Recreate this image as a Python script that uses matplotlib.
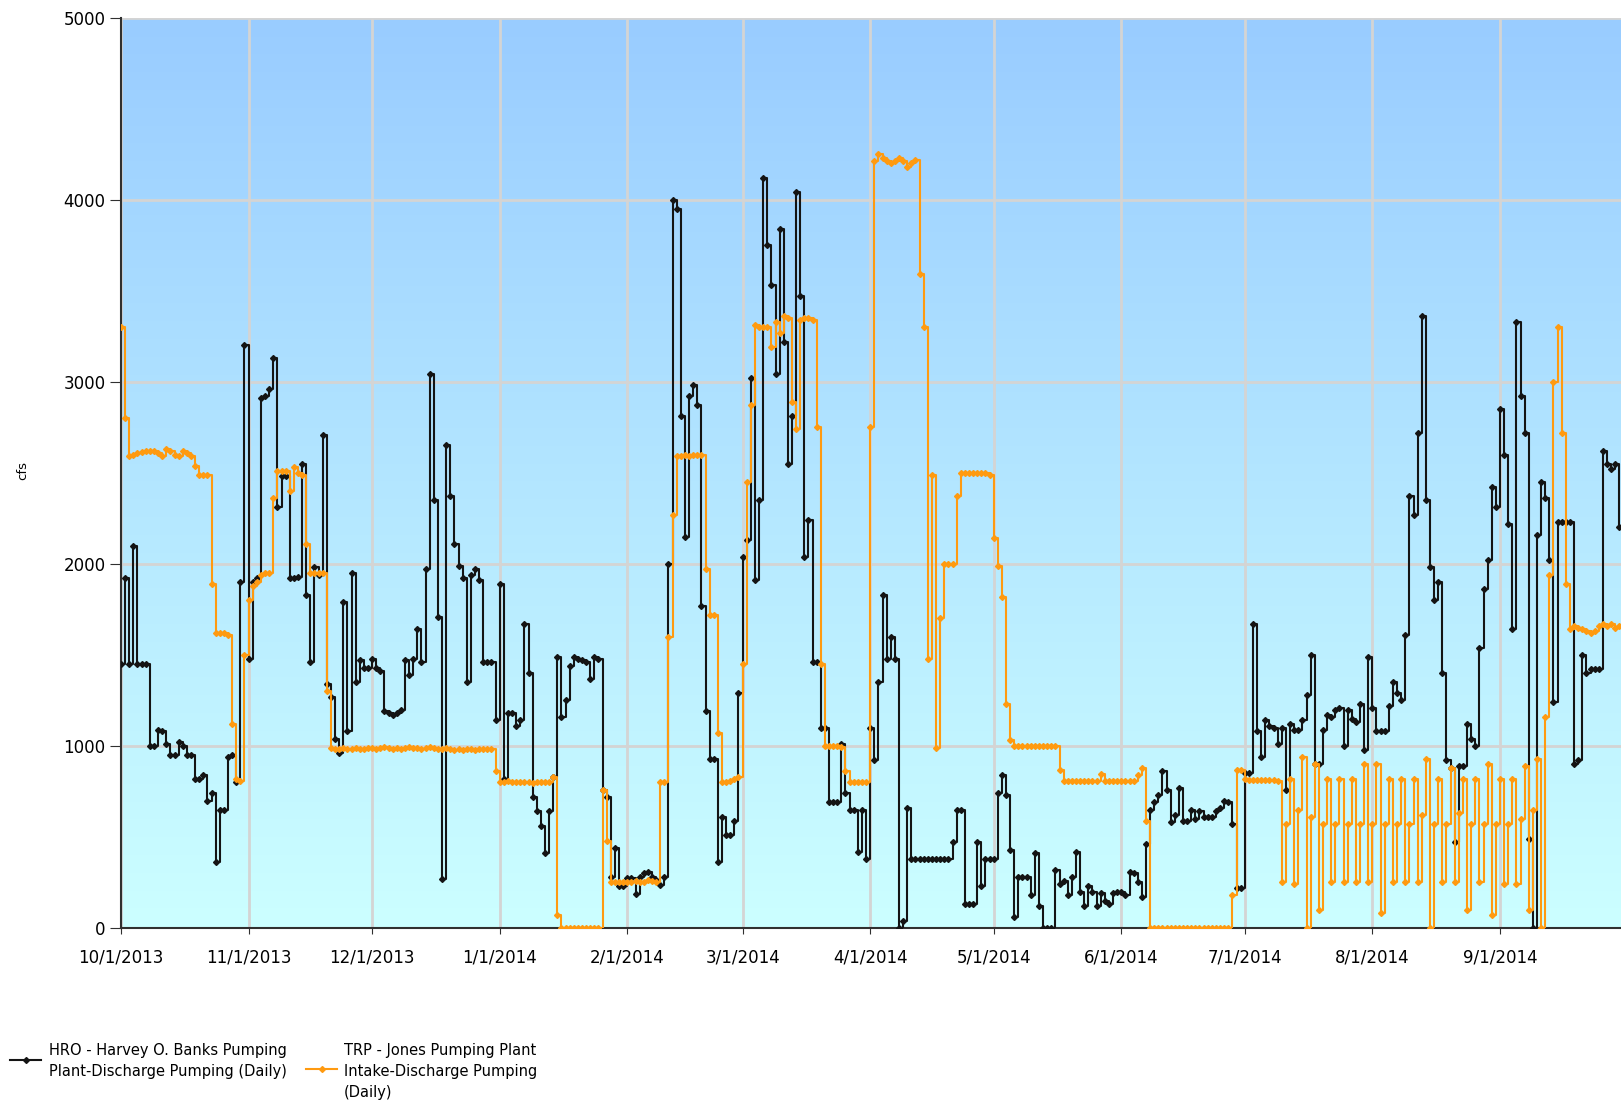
import numpy as np
import matplotlib
matplotlib.use('Agg')
import matplotlib.pyplot as plt
import matplotlib.dates as mdates
from matplotlib.lines import Line2D
from datetime import datetime, timedelta

# daily values (cfs), 10/1/2013 - 9/30/2014
hro_oct = [1450, 1920, 1450, 2100, 1450, 1450, 1450, 1000, 1000, 1090, 1080, 1010, 950, 950, 1020, 1000,
           950, 950, 820, 820, 840, 700, 740, 360, 650, 650, 940, 950, 800, 1900, 3200]
hro_nov = [1480, 1900, 1920, 2910, 2920, 2960, 3130, 2310, 2480, 2480, 1920, 1920, 1930, 2550, 1830, 1460,
           1980, 1940, 2710, 1340, 1270, 1040, 960, 1790, 1080, 1950, 1350, 1470, 1430, 1430]
hro_dec = [1480, 1430, 1410, 1190, 1180, 1170, 1180, 1200, 1470, 1390, 1480, 1640, 1460, 1970, 3040, 2350,
           1710, 270, 2650, 2370, 2110, 1990, 1920, 1350, 1940, 1970, 1910, 1460, 1460, 1460, 1140]
hro_jan = [1890, 820, 1180, 1180, 1110, 1140, 1670, 1400, 720, 640, 560, 410, 640, 830, 1490, 1160,
           1250, 1440, 1490, 1480, 1470, 1460, 1370, 1490, 1480, 760, 720, 280, 440, 230, 230]
hro_feb = [275, 275, 185, 280, 300, 310, 280, 265, 235, 280, 2000, 4000, 3950, 2810, 2150, 2920,
           2980, 2870, 1770, 1190, 930, 930, 360, 610, 510, 510, 590, 1290]
hro_mar = [2040, 2130, 3020, 1910, 2350, 4120, 3750, 3530, 3040, 3840, 3220, 2550, 2810, 4040, 3470, 2040,
           2240, 1460, 1460, 1100, 1100, 690, 690, 690, 1010, 740, 650, 650, 420, 650, 380]
hro_apr = [1100, 920, 1350, 1830, 1480, 1600, 1480, 0, 40, 660, 380, 380, 380, 380, 380, 380,
           380, 380, 380, 380, 470, 650, 650, 130, 130, 130, 470, 230, 380, 380]
hro_may = [380, 740, 840, 730, 430, 60, 280, 280, 280, 180, 410, 120, 0, 0, 0, 320,
           240, 260, 180, 280, 420, 200, 120, 230, 200, 120, 190, 150, 130, 190, 200]
hro_jun = [200, 180, 310, 300, 250, 170, 460, 650, 690, 730, 860, 760, 580, 620, 770, 590,
           590, 650, 600, 640, 610, 610, 610, 640, 660, 700, 690, 570, 220, 220]
hro_jul = [850, 850, 1670, 1080, 940, 1140, 1110, 1100, 1010, 1100, 760, 1120, 1090, 1090, 1140, 1280,
           1500, 900, 900, 1090, 1170, 1160, 1200, 1210, 1000, 1200, 1150, 1130, 1230, 980, 1490]
hro_aug = [1210, 1080, 1080, 1080, 1220, 1350, 1290, 1250, 1610, 2370, 2270, 2720, 3360, 2350, 1980, 1800,
           1900, 1400, 920, 880, 470, 890, 890, 1120, 1040, 1000, 1540, 1860, 2020, 2420, 2310]
hro_sep = [2850, 2600, 2220, 1640, 3330, 2920, 2720, 490, 0, 2160, 2450, 2360, 2020, 1240, 2230, 2230,
           2230, 2230, 900, 920, 1500, 1400, 1420, 1420, 1420, 2620, 2550, 2520, 2550, 2200]

trp_oct = [3300, 2800, 2590, 2600, 2610, 2615, 2620, 2620, 2620, 2610, 2590, 2630, 2620, 2600, 2590, 2620,
           2610, 2590, 2540, 2490, 2490, 2490, 1890, 1620, 1620, 1620, 1610, 1120, 820, 810, 1500]
trp_nov = [1800, 1880, 1900, 1940, 1950, 1950, 2360, 2510, 2510, 2510, 2400, 2530, 2500, 2490, 2110, 1950,
           1950, 1950, 1950, 1300, 990, 985, 985, 990, 985, 985, 990, 985, 985, 990]
trp_dec = [990, 985, 990, 995, 990, 985, 990, 985, 990, 995, 990, 990, 985, 990, 995, 990,
           985, 985, 990, 985, 980, 985, 980, 985, 985, 980, 985, 985, 985, 985, 865]
trp_jan = [800, 800, 805, 800, 800, 800, 800, 800, 795, 800, 800, 800, 800, 830, 70, 0,
           0, 0, 0, 0, 0, 0, 0, 0, 0, 760, 480, 250, 250, 250, 250]
trp_feb = [250, 250, 260, 255, 250, 265, 260, 250, 800, 800, 1600, 2270, 2590, 2590, 2600, 2590,
           2600, 2600, 2600, 1970, 1720, 1720, 1070, 800, 800, 810, 820, 830]
trp_mar = [1450, 2450, 2870, 3310, 3300, 3300, 3300, 3190, 3330, 3270, 3360, 3350, 2890, 2740, 3340, 3350,
           3350, 3340, 2750, 1450, 1000, 1000, 1000, 1000, 995, 860, 800, 800, 800, 800, 800]
trp_apr = [2750, 4210, 4250, 4230, 4210, 4200, 4210, 4230, 4210, 4180, 4200, 4220, 3590, 3300, 1480, 2490,
           990, 1700, 2000, 2000, 2000, 2370, 2500, 2500, 2500, 2500, 2500, 2500, 2500, 2490]
trp_may = [2140, 1990, 1820, 1230, 1030, 1000, 1000, 1000, 1000, 1000, 1000, 1000, 1000, 1000, 1000, 1000,
           870, 810, 810, 810, 810, 810, 810, 810, 810, 810, 845, 810, 810, 810, 810]
trp_jun = [810, 810, 810, 810, 840, 880, 590, 0, 0, 0, 0, 0, 0, 0, 0, 0,
           0, 0, 0, 0, 0, 0, 0, 0, 0, 0, 0, 180, 870, 870]
trp_jul = [820, 815, 815, 815, 815, 815, 815, 815, 810, 250, 570, 820, 240, 650, 940, 0,
           610, 900, 100, 570, 820, 250, 570, 820, 250, 570, 820, 250, 570, 900, 250]
trp_aug = [570, 900, 80, 570, 820, 250, 570, 820, 250, 570, 820, 250, 620, 930, 0, 570,
           820, 250, 570, 880, 250, 630, 820, 100, 570, 820, 250, 570, 900, 70, 570]
trp_sep = [820, 240, 570, 820, 240, 600, 890, 100, 650, 930, 0, 1160, 1940, 3000, 3300, 2720,
           1890, 1640, 1660, 1650, 1640, 1630, 1620, 1630, 1660, 1670, 1660, 1670, 1650, 1660]

month_labels = ['10/1/2013', '11/1/2013', '12/1/2013', '1/1/2014', '2/1/2014', '3/1/2014',
                '4/1/2014', '5/1/2014', '6/1/2014', '7/1/2014', '8/1/2014', '9/1/2014']

hro_label = 'HRO - Harvey O. Banks Pumping\nPlant-Discharge Pumping (Daily)'
trp_label = 'TRP - Jones Pumping Plant\nIntake-Discharge Pumping\n(Daily)'

hro = hro_oct + hro_nov + hro_dec + hro_jan + hro_feb + hro_mar + hro_apr + hro_may + hro_jun + hro_jul + hro_aug + hro_sep
trp = trp_oct + trp_nov + trp_dec + trp_jan + trp_feb + trp_mar + trp_apr + trp_may + trp_jun + trp_jul + trp_aug + trp_sep

start = datetime(2013, 10, 1)
days = [start + timedelta(days=i) for i in range(len(hro))]

HRO_COLOR = '#141414'
TRP_COLOR = '#ff9a10'

W, H = 1621, 1103
fig = plt.figure(figsize=(W / 100, H / 100), dpi=100)
ax = fig.add_axes([121 / W, 1 - 928 / H, 1 - 121 / W, (928 - 17.6) / H])

# background gradient
top = np.array([153, 204, 255]) / 255
bot = np.array([204, 255, 255]) / 255
t = np.linspace(0, 1, 256)[:, None]
grad = (bot[None, :] * (1 - t) + top[None, :] * t)[:, None, :]
ax.imshow(grad, extent=(0, 1, 0, 1), transform=ax.transAxes, aspect='auto',
          origin='lower', zorder=0, interpolation='bilinear')

ax.plot(days, hro, drawstyle='steps-post', color=HRO_COLOR, lw=1.5,
        marker='D', ms=3, zorder=3)
ax.plot(days, trp, drawstyle='steps-post', color=TRP_COLOR, lw=1.5,
        marker='D', ms=3, zorder=4)

x0 = mdates.date2num(start)
ax.set_xlim(x0, x0 + 364.4)
ax.set_ylim(0, 5000)
ax.set_yticks(range(0, 5001, 1000))
ax.set_xticks([datetime.strptime(s, '%m/%d/%Y') for s in month_labels])
ax.set_xticklabels(month_labels)

ax.set_axisbelow(True)
ax.grid(color='#d4d4d4', lw=2)
for s in ['top', 'right']:
    ax.spines[s].set_visible(False)
ax.spines['left'].set_color('#303030')
ax.spines['bottom'].set_color('#303030')
ax.spines['left'].set_linewidth(1.5)
ax.spines['bottom'].set_linewidth(1.5)
ax.tick_params(axis='y', length=8, color='#303030', labelsize=12, pad=3)
ax.tick_params(axis='x', length=4, color='#303030', labelsize=12, pad=11)

fig.text(23 / W, 1 - 470 / H, 'cfs', rotation=90, ha='center', va='center', fontsize=9.5)

# legend below the plot, drawn by hand so the two entries line up like the original
def legend_entry(x_line, y_line, x_text, label, color):
    fig.add_artist(Line2D([x_line / W, (x_line + 31) / W], [1 - y_line / H] * 2,
                          color=color, lw=1.5, transform=fig.transFigure))
    fig.add_artist(Line2D([(x_line + 15.5) / W], [1 - y_line / H], color=color,
                          marker='D', ms=3, transform=fig.transFigure))
    fig.text(x_text / W, 1 - 1043 / H, label, ha='left', va='top',
             fontsize=10.5, linespacing=1.5)

legend_entry(10, 1060, 49, hro_label, HRO_COLOR)
legend_entry(306, 1069, 344, trp_label, TRP_COLOR)

fig.savefig('out.png', dpi=100)
